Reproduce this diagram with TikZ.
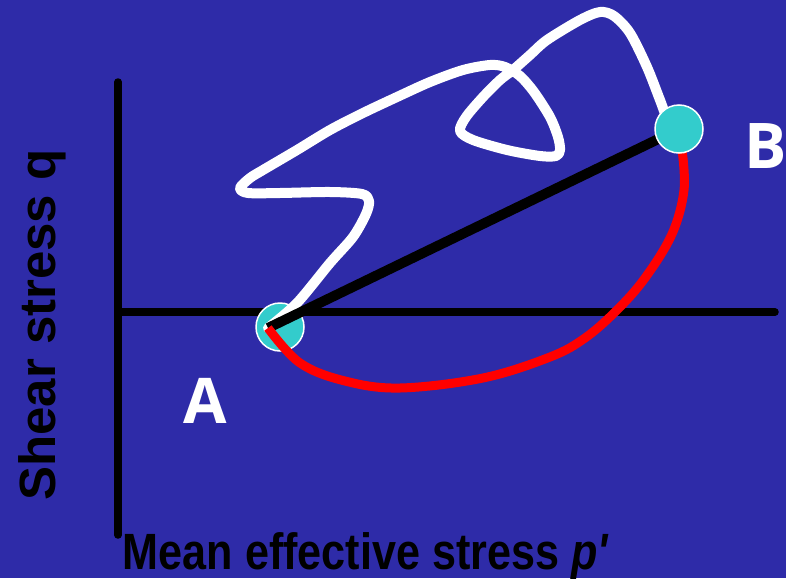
\documentclass[tikz,border=0pt]{standalone}
\usepackage{fontspec}
\setmainfont{Liberation Sans}[Ligatures=TeXOff]
\newfontfamily\ptfont{Open Sans}
\usetikzlibrary{calc}
\definecolor{bgblue}{RGB}{46,43,168}
\definecolor{teal}{RGB}{51,204,204}
\definecolor{redline}{RGB}{255,0,0}
\tikzset{
  axisline/.style={line width=7.5pt, black, line cap=round},
  whitepath/.style={line width=10pt, white, line cap=round, line join=round},
  blackpath/.style={line width=10pt, black, line cap=butt},
  redpath/.style={line width=9pt, redline, line cap=butt},
  statept/.style={circle, fill=teal, draw=white, line width=1.5pt, minimum size=48pt, inner sep=0pt},
  ptlabel/.style={text=white, font=\ptfont\bfseries\fontsize{63}{70}\selectfont, inner sep=0pt, anchor=base},
  axlabel/.style={text=black, font=\bfseries\fontsize{51}{60}\selectfont, inner sep=0pt, anchor=base}
}
\begin{document}
\begin{tikzpicture}[x=1pt,y=-1pt]
\fill[bgblue] (0,0) rectangle (786,578);
\useasboundingbox (0,0) rectangle (786,578);
% axes
\coordinate (O) at (118,312);
\coordinate (ytop) at (118,82);
\coordinate (ybot) at (118,535);
\coordinate (xend) at (775,312);
\draw[axisline] (ytop) -- (ybot);
\draw[axisline] (O) -- (xend);
% state A (under the paths)
\node[statept] (A) at (280,327) {};
\coordinate (Aend) at (268,328);
\coordinate (Bc) at (679,129);
% white stress path
\draw[whitepath] plot[smooth, tension=0.5] coordinates {
 (Aend) (297,303) (330,263) (353,237) (366,214) (369,201) (362,194)
 (330,192) (280,193) (248,193) (240,188) (250,178) (263,170)
 (297,150) (330,130) (363,113) (397,97) (430,82) (463,70) (490,65)
 (505,67) (520,76) (534,92) (550,117) (558,137) (560,150) (556,156)
 (540,156) (507,150) (473,140) (460,131) (466,117) (483,97) (500,80)
 (513,70) (530,55) (547,40) (580,20) (600,12) (614,16) (630,33)
 (647,67) (660,100) (668,120) (Bc)};
% black straight path
\draw[blackpath] (Aend) -- (Bc);
% red path
\draw[redpath] plot[smooth, tension=0.6] coordinates {
 (Aend) (300,363) (345,381) (400,388) (483,378) (550,357) (585,338)
 (617,310) (645,278) (672,234) (684,190) (682,150)};
% state B (on top)
\node[statept] (B) at (Bc) {};
% labels
\node[ptlabel] (labA) at (205,423) {A};
\node[ptlabel] (labB) at (766,168) {B};
\node[axlabel, rotate=90] (ylab) at (55,325) {Shear stress q};
\node[axlabel] (xlab) at (366,569) {\scalebox{0.846}[1]{Mean effective stress \textit{p'}}};
\end{tikzpicture}
\end{document}
